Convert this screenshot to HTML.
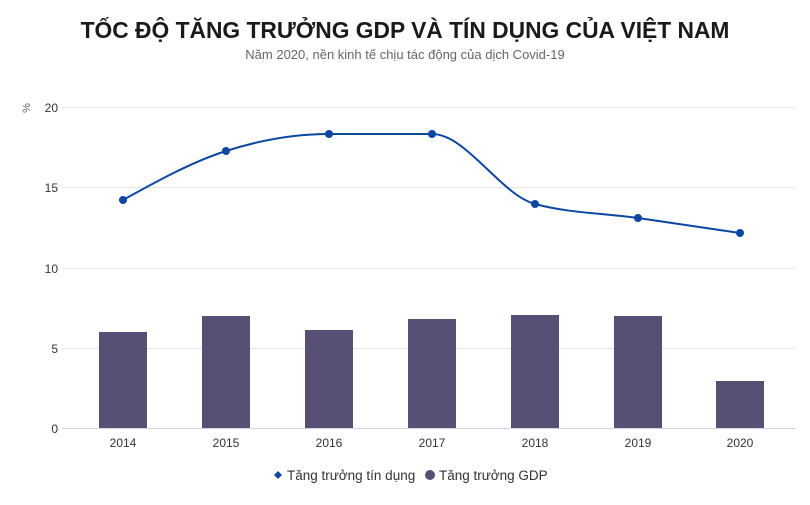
<!DOCTYPE html>
<html><head><meta charset="utf-8"><style>
body{margin:0;background:#fff;width:810px;height:500px;overflow:hidden;font-family:"Liberation Sans","Noto Sans CJK SC",sans-serif}
</style></head><body>
<svg width="810" height="500" xmlns="http://www.w3.org/2000/svg" font-family="Liberation Sans, sans-serif">
<text x="405" y="38" text-anchor="middle" font-size="22.8" font-weight="bold" fill="#1a1a1a">TỐC ĐỘ TĂNG TRƯỞNG GDP VÀ TÍN DỤNG CỦA VIỆT NAM</text>
<text x="405" y="59" text-anchor="middle" font-size="13" fill="#666">Năm 2020, nền kinh tế chịu tác động của dịch Covid-19</text>
<g stroke="#e6e6e6" stroke-width="1">
<line x1="62" y1="107.5" x2="795" y2="107.5"/>
<line x1="62" y1="187.5" x2="795" y2="187.5"/>
<line x1="62" y1="268.5" x2="795" y2="268.5"/>
<line x1="62" y1="348.5" x2="795" y2="348.5"/>
</g>
<line x1="62" y1="428.5" x2="795" y2="428.5" stroke="#ccd6eb"/>
<g font-size="12" fill="#333" text-anchor="end">
<text x="58" y="112">20</text><text x="58" y="192">15</text><text x="58" y="273">10</text><text x="58" y="353">5</text><text x="58" y="433">0</text>
</g>
<text x="0" y="0" font-size="11" fill="#666" transform="translate(30,108) rotate(-90)" text-anchor="middle">%</text>
<g fill="#574f74">
<rect x="99" y="332" width="48" height="96"/>
<rect x="202" y="316" width="48" height="112"/>
<rect x="305" y="330" width="48" height="98"/>
<rect x="408" y="319" width="48" height="109"/>
<rect x="511" y="315" width="48" height="113"/>
<rect x="614" y="316" width="48" height="112"/>
<rect x="716" y="381" width="48" height="47"/>
</g>
<g font-size="12" fill="#333" text-anchor="middle">
<text x="123" y="447">2014</text><text x="226" y="447">2015</text><text x="329" y="447">2016</text><text x="432" y="447">2017</text><text x="535" y="447">2018</text><text x="638" y="447">2019</text><text x="740" y="447">2020</text>
</g>
<path d="M123,200 C157.3,181 191.7,162 226,151 C260.3,140 294.7,134 329,134 C363.3,134 397.7,134 432,134 C466.3,134 500.7,194.7 535,204 C569.3,213.3 603.7,213.1 638,218 C672,222.8 706,227.9 740,233" fill="none" stroke="#0d47a1" stroke-width="2"/>
<g fill="#0d47a1">
<circle cx="123" cy="200" r="4"/><circle cx="226" cy="151" r="4"/><circle cx="329" cy="134" r="4"/><circle cx="432" cy="134" r="4"/><circle cx="535" cy="204" r="4"/><circle cx="638" cy="218" r="4"/><circle cx="740" cy="233" r="4"/>
</g>
<path d="M274,475 l4,-4 l4,4 l-4,4 z" fill="#0d47a1"/>
<text x="287" y="480" font-size="13.5" fill="#333">Tăng trưởng tín dụng</text>
<circle cx="430" cy="475" r="5" fill="#574f74"/>
<text x="439" y="480" font-size="13.5" fill="#333">Tăng trưởng GDP</text>
</svg>
</body></html>
